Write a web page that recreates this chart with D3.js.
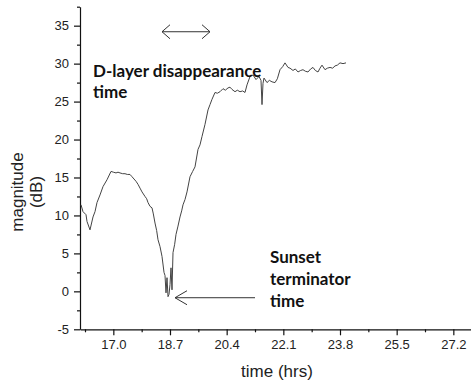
<!DOCTYPE html>
<html>
<head>
<meta charset="utf-8">
<script src="https://cdn.jsdelivr.net/npm/d3@7.9.0/dist/d3.min.js"></script>
<style>
  body { margin: 0; background: #fff; }
  svg { display: block; }
  .axis text { font-family: "Liberation Sans", Arial, sans-serif; font-size: 13px; fill: #222; }
  .axis path, .axis line { stroke: #111; stroke-width: 1.2; }
  .note { font-family: Lato, "Open Sans", sans-serif; font-weight: bold; font-size: 17px; fill: #111; }
  .label { font-family: "Liberation Sans", Arial, sans-serif; font-size: 17px; fill: #222; }
</style>
</head>
<body>
<svg id="chart" width="471" height="385"></svg>
<script>
// time (hrs) and magnitude (dB)
const times = [
  16.03, 16.09, 16.18, 16.21, 16.30, 16.39, 16.45, 16.51, 16.60, 16.69,
  16.81, 16.93, 17.00, 17.08, 17.14, 17.20, 17.28, 17.35, 17.42, 17.50,
  17.56, 17.62, 17.68, 17.74, 17.80, 17.86, 17.95, 18.00, 18.04, 18.10,
  18.16, 18.20, 18.25, 18.30, 18.34, 18.40, 18.46, 18.52, 18.55, 18.58,
  18.61, 18.64, 18.67, 18.70, 18.73, 18.76, 18.79, 18.84, 18.88, 18.94,
  19.00, 19.05, 19.09, 19.15, 19.21, 19.30, 19.38, 19.45, 19.54, 19.60,
  19.66, 19.75, 19.84, 19.90, 19.96, 20.05, 20.12, 20.20, 20.29, 20.36,
  20.44, 20.50, 20.56, 20.65, 20.72, 20.80, 20.88, 20.95, 21.01, 21.10,
  21.19, 21.28, 21.37, 21.43, 21.46, 21.49, 21.52, 21.61, 21.68, 21.76,
  21.85, 21.92, 22.00, 22.08, 22.15, 22.24, 22.30, 22.39, 22.46, 22.54,
  22.62, 22.69, 22.76, 22.84, 22.92, 22.99, 23.06, 23.14, 23.20, 23.26,
  23.35, 23.42, 23.50, 23.58, 23.65, 23.72, 23.80, 23.89, 23.98
];
const magnitude = [
  11.4, 10.5, 10.1, 9.2, 8.1, 9.8, 10.5, 11.7, 12.7, 13.8,
  14.7, 15.8, 15.7, 15.6, 15.7, 15.6, 15.5, 15.5, 15.4, 15.4,
  15.1, 14.8, 14.5, 14.1, 13.6, 13.1, 12.5, 12.2, 11.7, 11.2,
  11.0, 10.2, 9.0, 8.0, 6.8, 5.9, 4.6, 2.5, 2.1, -0.2,
  1.8, -0.7, -0.4, 0.9, 3.1, 0.2, 5.1, 6.2, 7.5, 8.6,
  9.8, 10.6, 11.4, 12.1, 13.1, 15.1, 15.8, 16.4, 18.7, 19.3,
  20.4, 22.0, 23.9, 24.6, 25.3, 26.2, 26.1, 26.3, 26.7, 26.5,
  26.8, 26.9, 26.6, 26.3, 26.5, 26.3, 26.4, 26.2, 27.2, 28.3,
  28.5, 27.9, 28.3, 27.8, 24.6, 27.4, 28.1, 27.5, 27.8, 27.6,
  27.5, 28.0, 29.2, 29.6, 30.1, 29.5, 29.4, 29.1, 29.3, 28.9,
  29.1, 29.2, 29.0, 28.9, 29.3, 29.5, 29.1, 28.9, 29.4, 29.8,
  29.2, 29.4, 29.5, 29.4, 29.7, 29.8, 30.1, 30.0, 30.1
];

const xTicks = [17.0, 18.7, 20.4, 22.1, 23.8, 25.5, 27.2];
const xMinorTicks = [16.15, 17.85, 19.55, 21.25, 22.95, 24.65, 26.35];
const yTicks = [-5, 0, 5, 10, 15, 20, 25, 30, 35];
const yMinorTicks = [-2.5, 2.5, 7.5, 12.5, 17.5, 22.5, 27.5, 32.5, 37.5];

// annotations, in data coordinates
const dLayerArrow = [18.46, 19.90, 34.2];   // x from, x to, y
const sunsetArrow = [21.25, 18.85, -0.84];  // x from, x tip, y
const dLayerText = ['D-layer disappearance', 'time'];
const sunsetText = ['Sunset', 'terminator', 'time'];

const svg = d3.select('#chart');

const x = d3.scaleLinear().domain([16.0, 27.73]).range([80, 471]);
const y = d3.scaleLinear().domain([-5, 37.5]).range([329.3, 6.7]);

// x axis
svg.append('g')
  .attr('class', 'axis')
  .attr('transform', `translate(0,${y(-5)})`)
  .call(d3.axisBottom(x).tickValues(xTicks).tickFormat(d3.format('.1f')).tickSize(6).tickSizeOuter(0).tickPadding(4));
svg.append('g')
  .attr('class', 'axis')
  .attr('transform', `translate(0,${y(-5)})`)
  .call(d3.axisBottom(x).tickValues(xMinorTicks).tickFormat('').tickSize(3).tickSizeOuter(0))
  .select('.domain').remove();

// y axis (plain hyphen for negatives, like the original)
svg.append('g')
  .attr('class', 'axis')
  .attr('transform', `translate(${x(16)},0)`)
  .call(d3.axisLeft(y).tickValues(yTicks).tickFormat((d) => String(d)).tickSize(6).tickSizeOuter(0).tickPadding(5));
svg.append('g')
  .attr('class', 'axis')
  .attr('transform', `translate(${x(16)},0)`)
  .call(d3.axisLeft(y).tickValues(yMinorTicks).tickFormat('').tickSize(3).tickSizeOuter(0))
  .select('.domain').remove();

// trace
const data = times.map((t, i) => ({ t, m: magnitude[i] }));
svg.append('path')
  .datum(data)
  .attr('fill', 'none')
  .attr('stroke', '#444')
  .attr('stroke-width', 1)
  .attr('stroke-linejoin', 'round')
  .attr('d', d3.line().x((d) => x(d.t)).y((d) => y(d.m)));

// axis labels
svg.append('text')
  .attr('class', 'label')
  .attr('x', 277)
  .attr('y', 377)
  .attr('text-anchor', 'middle')
  .text('time (hrs)');

const yLabel = svg.append('text')
  .attr('class', 'label')
  .attr('transform', 'translate(23,192) rotate(-90)')
  .attr('text-anchor', 'middle');
yLabel.append('tspan').attr('x', 0).attr('dy', 0).text('magnitude');
yLabel.append('tspan').attr('x', 0).attr('dy', 19).text('(dB)');

// arrows
function openHead(g, tipX, tipY, dir, len, half) {
  g.append('path')
    .attr('d', `M${tipX + dir * len},${tipY - half} L${tipX},${tipY} L${tipX + dir * len},${tipY + half}`)
    .attr('fill', 'none')
    .attr('stroke', '#333')
    .attr('stroke-width', 1);
}

const arrows = svg.append('g');
arrows.append('line')
  .attr('x1', x(dLayerArrow[0])).attr('x2', x(dLayerArrow[1]))
  .attr('y1', y(dLayerArrow[2])).attr('y2', y(dLayerArrow[2]))
  .attr('stroke', '#333').attr('stroke-width', 1);
openHead(arrows, x(dLayerArrow[0]), y(dLayerArrow[2]), 1, 8, 7);
openHead(arrows, x(dLayerArrow[1]), y(dLayerArrow[2]), -1, 8, 7);

arrows.append('line')
  .attr('x1', x(sunsetArrow[0])).attr('x2', x(sunsetArrow[1]))
  .attr('y1', y(sunsetArrow[2])).attr('y2', y(sunsetArrow[2]))
  .attr('stroke', '#333').attr('stroke-width', 1);
openHead(arrows, x(sunsetArrow[1]), y(sunsetArrow[2]), 1, 12, 7);

// annotation text
const dText = svg.append('text').attr('class', 'note');
dLayerText.forEach((s, i) => {
  dText.append('tspan').attr('x', 93).attr('y', 77 + i * 21).text(s);
});
const sText = svg.append('text').attr('class', 'note');
sunsetText.forEach((s, i) => {
  sText.append('tspan').attr('x', 270).attr('y', 263 + i * 22).text(s);
});
</script>
</body>
</html>
